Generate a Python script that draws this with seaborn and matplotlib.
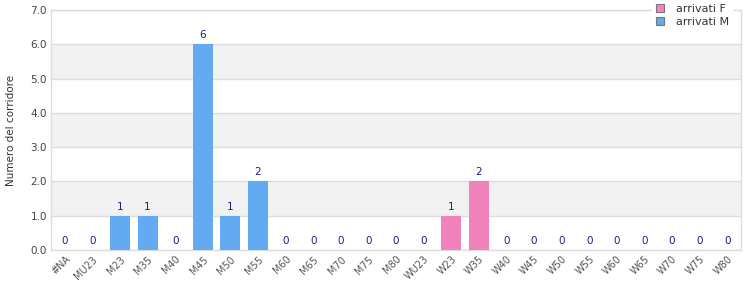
import matplotlib
matplotlib.use("Agg")
import matplotlib.pyplot as plt
import seaborn as sns
import pandas as pd
import numpy as np

categories = ["#NA", "MU23", "M23", "M35", "M40", "M45", "M50", "M55", "M60", "M65",
              "M70", "M75", "M80", "WU23", "W23", "W35", "W40", "W45", "W50", "W55",
              "W60", "W65", "W70", "W75", "W80"]
values = [0, 0, 1, 1, 0, 6, 1, 2, 0, 0, 0, 0, 0, 0, 1, 2, 0, 0, 0, 0, 0, 0, 0, 0, 0]
series = ["arrivati M"] * 13 + ["arrivati F"] * 12
yticks = [0, 1, 2, 3, 4, 5, 6, 7]

df = pd.DataFrame({"cat": categories, "val": values, "series": series})

sns.set_theme(style="white")
plt.rcParams["font.family"] = ["DejaVu Sans"]

fig = plt.figure(figsize=(7.5, 3.0), dpi=100)
ax = fig.add_axes([0.068, 0.1667, 0.92, 0.80])

palette = {"arrivati F": "#F282BC", "arrivati M": "#62AAF2"}
sns.barplot(data=df, x="cat", y="val", hue="series", hue_order=["arrivati F", "arrivati M"],
            palette=palette, dodge=False, width=0.72, saturation=1, ax=ax, zorder=3,
            order=categories, linewidth=0)

# bands
for i, lo in enumerate(yticks[:-1]):
    if i % 2 == 1:
        ax.axhspan(lo, lo + 1, color="#F2F2F2", zorder=0, lw=0)
for t in yticks:
    ax.axhline(t, color="#DDDDDD", lw=1, zorder=1)

ax.set_ylim(0, 7)
ax.set_xlim(-0.5, len(categories) - 0.5)
ax.set_yticks(yticks)
ax.set_yticklabels([f"{t:.1f}" for t in yticks], fontsize=7.5, color="#444444")
ax.set_xticks(range(len(categories)))
ax.set_xticklabels(categories, rotation=45, ha="right", rotation_mode="anchor",
                   fontsize=7, color="#555555")
ax.tick_params(axis="both", length=0, pad=3)
ax.set_xlabel("")
ax.set_ylabel("Numero del corridore", fontsize=7.5, color="#333333", labelpad=10)

for i, v in enumerate(values):
    ax.text(i, v + 0.12, f"{v}", ha="center", va="bottom", fontsize=7.5, color="#1A1A8C", zorder=4)

for s in ax.spines.values():
    s.set_color("#DDDDDD")
    s.set_linewidth(1)

leg = ax.legend(loc="upper right", bbox_to_anchor=(0.995, 1.062), fontsize=8, frameon=True,
                handlelength=0.8, handleheight=0.8, borderpad=0.3, labelspacing=0.25,
                handletextpad=1.0, fancybox=False, edgecolor="white", framealpha=1)
for h in leg.legend_handles:
    h.set_edgecolor("#777777")
    h.set_linewidth(0.8)
for t in leg.get_texts():
    t.set_color("#333333")

fig.savefig("out.png", dpi=100)
